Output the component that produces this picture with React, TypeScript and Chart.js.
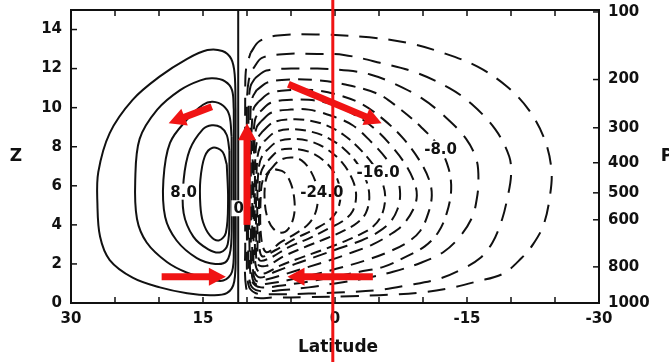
import { useEffect, useRef } from 'react';
import { Chart, registerables } from 'chart.js';

Chart.register(...registerables);

type Pt = [number, number]; // [latitude (deg), height Z (km)]

// ---- axis ticks ----
const latLabelTicks = [30, 15, 0, -15, -30];
const latMinorTicks = [25, 20, 10, 5, -5, -10, -20, -25];
const zTicks = [0, 2, 4, 6, 8, 10, 12, 14];
const pressureLabels = ['1000', '800', '600', '500', '400', '300', '200', '100'];
const pressureZ = [0, 1.85, 4.26, 5.64, 7.18, 8.97, 11.44, 14.9];

// ---- streamfunction contours, positive (direct) cell ----
const psiPos2: Pt[] = [[11.3,9.9],[11.4,11.7],[11.8,12.5],[12.8,12.9],[14.5,12.95],[16.8,12.5],[19.9,11.6],[23.0,10.4],[25.6,8.7],[26.9,6.7],[27.0,5.1],[26.7,3.4],[25.6,2.2],[23.0,1.3],[19.9,0.8],[16.8,0.5],[14.2,0.4],[12.3,0.5],[11.45,1.1],[11.3,3.0],[11.3,6.0],[11.3,9.9]];
const psiPos4: Pt[] = [[11.5,9.9],[11.7,10.9],[12.5,11.35],[13.9,11.5],[15.3,11.4],[17.6,10.9],[20.2,9.9],[22.2,8.4],[22.7,6.3],[22.5,4.3],[21.4,3.1],[19.1,2.1],[16.8,1.55],[14.5,1.25],[12.7,1.15],[11.7,1.6],[11.5,3.0],[11.5,6.0],[11.5,9.9]];
const psiPos6: Pt[] = [[11.75,8.5],[12.0,9.6],[12.7,10.1],[13.9,10.3],[15.0,10.15],[16.8,9.4],[18.75,8.2],[19.5,6.3],[19.3,4.4],[18.0,3.2],[15.7,2.3],[13.6,2.0],[12.3,2.15],[11.8,3.0],[11.75,5.5],[11.75,8.5]];
const psiPos8: Pt[] = [[12.0,7.8],[12.3,8.6],[13.0,9.0],[14.0,9.1],[15.0,8.9],[16.5,7.85],[17.2,6.3],[17.2,4.6],[16.1,3.4],[14.4,2.75],[13.0,2.6],[12.2,3.0],[12.0,4.5],[12.0,7.8]];
const psiPos10: Pt[] = [[12.3,7.1],[12.8,7.75],[13.9,7.95],[14.8,7.5],[15.3,6.3],[15.3,5.0],[15.0,4.15],[14.2,3.45],[13.2,3.2],[12.4,3.6],[12.15,5.3],[12.3,7.1]];

// ---- zero line ----
const psiZero: Pt[] = [[11.0,0],[11.0,15]];

// ---- negative (reverse) cell ----
const psiNeg2: Pt[] = [[9.6,12.8],[8.6,13.4],[6.5,13.7],[2.0,13.75],[-3.9,13.6],[-8.4,13.3],[-12.3,12.8],[-16.2,12.1],[-19.5,11.1],[-22.0,9.9],[-23.8,8.4],[-24.6,6.8],[-24.4,5.4],[-23.7,4.0],[-22.5,3.0],[-21.2,2.3],[-19.1,1.5],[-16.1,1.1],[-13.1,0.77],[-10.0,0.55],[-6.0,0.42],[-1.7,0.35],[3.0,0.3],[7.0,0.28],[9.3,0.3],[10.1,0.8],[10.2,3.0],[10.2,7.0],[10.2,10.8],[10.1,12.0],[9.6,12.8]];
const psiNeg4: Pt[] = [[9.3,12.0],[8.3,12.55],[5.5,12.75],[2.0,12.75],[-1.0,12.7],[-5.1,12.3],[-9.2,11.8],[-13.0,11.0],[-15.5,10.2],[-18.2,8.9],[-19.8,7.5],[-20.0,6.5],[-19.6,5.4],[-19.0,4.3],[-17.9,3.1],[-16.5,2.3],[-14.5,1.75],[-11.9,1.25],[-8.2,0.9],[-5.1,0.67],[-1.0,0.55],[3.0,0.48],[7.0,0.45],[9.0,0.5],[9.85,0.95],[10.0,3.0],[10.0,7.0],[10.0,10.3],[9.8,11.4],[9.3,12.0]];
const psiNeg6: Pt[] = [[9.1,11.5],[7.8,11.9],[5.0,12.0],[2.0,12.0],[-1.5,11.9],[-4.0,11.7],[-6.4,11.3],[-9.8,10.5],[-12.6,9.5],[-14.9,8.4],[-16.1,7.3],[-16.3,6.2],[-16.1,5.3],[-15.6,4.4],[-14.2,3.4],[-12.3,2.6],[-9.7,2.05],[-6.6,1.6],[-3.6,1.28],[0.0,1.0],[3.0,0.8],[6.0,0.66],[8.6,0.62],[9.6,0.95],[9.85,2.5],[9.85,6.5],[9.8,10.2],[9.6,11.1],[9.1,11.5]];
const psiNeg8: Pt[] = [[8.9,10.9],[7.6,11.3],[5.0,11.45],[2.0,11.4],[-1.0,11.2],[-4.9,10.7],[-7.2,10.0],[-9.8,9.0],[-11.8,8.0],[-12.9,6.9],[-13.2,5.8],[-12.7,4.6],[-11.7,3.6],[-10.2,2.9],[-8.2,2.4],[-5.5,1.85],[-2.8,1.6],[0.0,1.35],[3.0,1.1],[6.0,0.9],[8.4,0.8],[9.4,1.1],[9.7,2.5],[9.7,6.5],[9.6,9.8],[9.4,10.5],[8.9,10.9]];
const psiNeg10: Pt[] = [[8.7,10.3],[7.4,10.75],[5.0,10.9],[2.5,10.9],[0.0,10.7],[-3.0,10.2],[-5.5,9.4],[-7.8,8.4],[-9.6,7.3],[-10.7,6.3],[-11.0,5.5],[-10.6,4.6],[-9.7,3.7],[-8.2,3.1],[-6.0,2.6],[-3.6,2.2],[-1.0,1.85],[2.0,1.5],[5.0,1.2],[7.5,1.0],[9.1,1.0],[9.5,1.8],[9.55,4.0],[9.55,7.5],[9.4,9.5],[9.2,10.0],[8.7,10.3]];
const psiNeg12: Pt[] = [[8.5,9.8],[7.3,10.25],[5.0,10.4],[3.0,10.4],[0.5,10.2],[-2.0,9.7],[-4.3,9.0],[-6.3,8.1],[-8.0,7.1],[-9.0,6.2],[-9.3,5.5],[-8.9,4.8],[-7.7,4.0],[-6.25,3.5],[-4.3,3.0],[-2.0,2.6],[0.5,2.2],[3.0,1.85],[5.5,1.5],[7.8,1.2],[9.0,1.15],[9.35,2.0],[9.4,4.5],[9.35,7.5],[9.2,9.0],[9.0,9.5],[8.5,9.8]];
const psiNeg14: Pt[] = [[8.4,9.3],[7.2,9.75],[5.0,9.9],[3.0,9.9],[0.5,9.6],[-2.0,9.1],[-4.0,8.3],[-5.8,7.4],[-7.0,6.5],[-7.4,5.6],[-7.1,4.8],[-6.2,4.1],[-4.8,3.6],[-3.0,3.2],[-0.5,2.8],[2.0,2.4],[4.5,2.0],[6.8,1.6],[8.5,1.3],[9.15,1.6],[9.25,3.0],[9.25,6.0],[9.15,8.3],[8.9,9.0],[8.4,9.3]];
const psiNeg16: Pt[] = [[8.2,8.8],[7.0,9.25],[5.0,9.4],[3.0,9.35],[1.0,9.1],[-1.0,8.6],[-3.0,7.8],[-4.6,6.9],[-5.5,6.0],[-5.7,5.3],[-5.3,4.5],[-4.3,3.9],[-2.8,3.5],[-0.8,3.1],[1.5,2.7],[4.0,2.3],[6.3,1.9],[8.2,1.5],[8.95,1.8],[9.1,3.0],[9.1,6.0],[9.0,7.9],[8.7,8.5],[8.2,8.8]];
const psiNeg18: Pt[] = [[8.0,8.3],[6.8,8.75],[5.0,8.9],[3.0,8.8],[1.0,8.5],[-1.0,7.9],[-2.6,7.1],[-3.6,6.2],[-3.9,5.4],[-3.5,4.6],[-2.5,4.1],[-1.0,3.7],[1.0,3.3],[3.5,2.85],[5.8,2.4],[7.8,1.9],[8.8,2.0],[8.95,3.2],[8.95,6.0],[8.8,7.5],[8.5,8.0],[8.0,8.3]];
const psiNeg20: Pt[] = [[7.8,7.8],[6.6,8.25],[5.0,8.4],[3.0,8.3],[1.0,7.9],[-0.8,7.2],[-2.0,6.3],[-2.4,5.5],[-2.0,4.7],[-0.9,4.2],[0.8,3.8],[3.0,3.3],[5.3,2.85],[7.4,2.3],[8.6,2.2],[8.8,3.3],[8.8,6.0],[8.6,7.1],[8.3,7.5],[7.8,7.8]];
const psiNeg22: Pt[] = [[7.6,7.3],[6.4,7.8],[5.0,7.9],[3.0,7.75],[1.3,7.3],[0.0,6.6],[-0.6,5.7],[-0.4,4.9],[0.5,4.3],[2.2,3.8],[4.5,3.3],[6.8,2.7],[8.3,2.4],[8.6,3.4],[8.6,5.8],[8.4,6.7],[8.1,7.0],[7.6,7.3]];
const psiNeg24: Pt[] = [[7.4,6.8],[6.3,7.3],[5.0,7.45],[3.8,7.3],[2.7,6.7],[2.0,5.8],[2.1,4.8],[2.9,4.1],[4.3,3.6],[6.2,3.1],[7.8,2.6],[8.4,3.4],[8.45,5.4],[8.2,6.3],[7.4,6.8]];
const psiNeg26: Pt[] = [[6.8,6.85],[5.8,6.7],[5.0,6.1],[4.6,5.2],[4.7,4.4],[5.3,3.8],[6.1,3.6],[7.0,3.8],[7.7,4.4],[8.0,5.3],[7.9,6.2],[7.5,6.7],[6.8,6.85]];

const contourLevels = [2, 4, 6, 8, 10, 0, -2, -4, -6, -8, -10, -12, -14, -16, -18, -20, -22, -24, -26];
const contourPaths: Pt[][] = [psiPos2, psiPos4, psiPos6, psiPos8, psiPos10, psiZero, psiNeg2, psiNeg4, psiNeg6, psiNeg8, psiNeg10, psiNeg12, psiNeg14, psiNeg16, psiNeg18, psiNeg20, psiNeg22, psiNeg24, psiNeg26];

// ---- inline contour labels ----
const labelTexts = ['8.0', '0', '-24.0', '-16.0', '-8.0'];
const labelLat = [17.2, 10.95, 1.5, -4.9, -12.0];
const labelZ = [5.7, 4.85, 5.7, 6.7, 7.9];

// ---- overlay: equator marker and circulation arrows (tail -> tip) ----
const equatorLat = 0.25;
const arrowTailLat = [14.0, 10.0, 5.3, 19.7, -4.3];
const arrowTailZ = [10.05, 4.0, 11.2, 1.35, 1.35];
const arrowTipLat = [18.9, 10.0, -5.3, 12.4, 5.4];
const arrowTipZ = [9.2, 9.2, 9.2, 1.35, 1.35];

const INK = '#111111';
const RED = '#f01414';
const FONT = '"DejaVu Sans", "Liberation Sans", sans-serif';

function dashFor(level: number): number[] {
  if (level >= 0) return [];
  if (level >= -6) return [18, 11];
  if (level >= -14) return [14, 8];
  return [11, 6];
}

function drawArrow(ctx: CanvasRenderingContext2D, x0: number, y0: number, x1: number, y1: number) {
  const ang = Math.atan2(y1 - y0, x1 - x0);
  const head = 17;
  const hw = 9;
  const bx = x1 - head * Math.cos(ang);
  const by = y1 - head * Math.sin(ang);
  ctx.lineWidth = 7;
  ctx.lineCap = 'butt';
  ctx.beginPath();
  ctx.moveTo(x0, y0);
  ctx.lineTo(bx + Math.cos(ang), by + Math.sin(ang));
  ctx.stroke();
  ctx.beginPath();
  ctx.moveTo(x1, y1);
  ctx.lineTo(bx + hw * Math.sin(ang), by - hw * Math.cos(ang));
  ctx.lineTo(bx - hw * Math.sin(ang), by + hw * Math.cos(ang));
  ctx.closePath();
  ctx.fill();
}

const decorPlugin = {
  id: 'decor',
  afterDatasetsDraw(chart: any) {
    const { ctx, chartArea: a, scales } = chart;
    const xs = scales.x;
    const ys = scales.y;
    const px = (v: number) => xs.getPixelForValue(v);
    const py = (v: number) => ys.getPixelForValue(v);
    ctx.save();

    // contour labels on white patches
    ctx.font = `bold 15px ${FONT}`;
    ctx.textAlign = 'center';
    ctx.textBaseline = 'middle';
    labelTexts.forEach((t, i) => {
      const x = px(labelLat[i]);
      const y = py(labelZ[i]);
      const w = ctx.measureText(t).width;
      ctx.fillStyle = '#ffffff';
      ctx.fillRect(x - w / 2 - 2, y - 8, w + 4, 16);
      ctx.fillStyle = INK;
      ctx.fillText(t, x, y + 1);
    });

    // frame
    ctx.strokeStyle = INK;
    ctx.lineWidth = 2;
    ctx.setLineDash([]);
    ctx.strokeRect(a.left, a.top, a.right - a.left, a.bottom - a.top);

    // inward tick marks
    ctx.lineWidth = 1.5;
    const tl = 6;
    [...latLabelTicks, ...latMinorTicks].forEach((v) => {
      const x = px(v);
      ctx.beginPath();
      ctx.moveTo(x, a.bottom);
      ctx.lineTo(x, a.bottom - tl);
      ctx.moveTo(x, a.top);
      ctx.lineTo(x, a.top + tl);
      ctx.stroke();
    });
    zTicks.forEach((v) => {
      const y = py(v);
      ctx.beginPath();
      ctx.moveTo(a.left, y);
      ctx.lineTo(a.left + tl, y);
      ctx.stroke();
    });
    pressureZ.forEach((v) => {
      const y = py(v);
      ctx.beginPath();
      ctx.moveTo(a.right, y);
      ctx.lineTo(a.right - tl, y);
      ctx.stroke();
    });

    // axis titles
    ctx.fillStyle = INK;
    ctx.font = `bold 17px ${FONT}`;
    ctx.textAlign = 'center';
    ctx.textBaseline = 'middle';
    const midY = py(7.5);
    ctx.fillText('Z', a.left - 55, midY);
    ctx.fillText('P', a.right + 68, midY);
    ctx.fillText('Latitude', (a.left + a.right) / 2 + 3, a.bottom + 45);

    // equator marker
    ctx.strokeStyle = RED;
    ctx.fillStyle = RED;
    ctx.lineWidth = 3;
    const ex = px(equatorLat);
    ctx.beginPath();
    ctx.moveTo(ex, 0);
    ctx.lineTo(ex, chart.height);
    ctx.stroke();

    // circulation arrows
    arrowTailLat.forEach((_, i) => {
      drawArrow(ctx, px(arrowTailLat[i]), py(arrowTailZ[i]), px(arrowTipLat[i]), py(arrowTipZ[i]));
    });

    ctx.restore();
  },
};

export default function App() {
  const canvasRef = useRef<HTMLCanvasElement | null>(null);

  useEffect(() => {
    const canvas = canvasRef.current;
    if (!canvas) return;

    const datasets = contourPaths.map((path, i) => ({
      label: `psi ${contourLevels[i]}`,
      data: path.map(([x, y]) => ({ x, y })),
      showLine: true,
      pointRadius: 0,
      pointHoverRadius: 0,
      borderColor: INK,
      borderWidth: 2,
      borderDash: dashFor(contourLevels[i]),
      tension: contourLevels[i] === 0 ? 0 : 0.35,
      fill: false,
    }));

    const tickFont = { family: FONT, size: 15, weight: 'bold' as const };
    const noOverflowY = (s: any) => {
      s.paddingTop = 0;
      s.paddingBottom = 0;
    };

    const chart = new Chart(canvas, {
      type: 'scatter',
      data: { datasets },
      options: {
        responsive: false,
        maintainAspectRatio: false,
        devicePixelRatio: 1,
        animation: false,
        events: [],
        layout: { padding: { top: 10, left: 0, right: 0, bottom: 0 } },
        plugins: {
          legend: { display: false },
          tooltip: { enabled: false },
        },
        scales: {
          x: {
            type: 'linear',
            position: 'bottom',
            reverse: true,
            min: -30,
            max: 30,
            afterBuildTicks: (s: any) => {
              s.ticks = latLabelTicks.map((value) => ({ value }));
            },
            afterFit: (s: any) => {
              s.height = 59;
              s.paddingLeft = 0;
              s.paddingRight = 0;
            },
            ticks: {
              autoSkip: false,
              maxRotation: 0,
              padding: 7,
              color: INK,
              font: tickFont,
              callback: (v: any) => String(v),
            },
            grid: { display: false, drawTicks: false },
            border: { display: false },
          },
          y: {
            type: 'linear',
            position: 'left',
            min: 0,
            max: 15,
            afterBuildTicks: (s: any) => {
              s.ticks = zTicks.map((value) => ({ value }));
            },
            afterFit: (s: any) => {
              s.width = 71;
              noOverflowY(s);
            },
            ticks: {
              autoSkip: false,
              padding: 9,
              color: INK,
              font: tickFont,
              callback: (v: any) => String(v),
            },
            grid: { display: false, drawTicks: false },
            border: { display: false },
          },
          p: {
            type: 'linear',
            position: 'right',
            min: 0,
            max: 15,
            afterBuildTicks: (s: any) => {
              s.ticks = pressureZ.map((value) => ({ value }));
            },
            afterFit: (s: any) => {
              s.width = 70;
              noOverflowY(s);
            },
            ticks: {
              autoSkip: false,
              padding: 9,
              color: INK,
              font: tickFont,
              callback: (_v: any, i: number) => pressureLabels[i],
            },
            grid: { display: false, drawTicks: false },
            border: { display: false },
          },
        },
      },
      plugins: [decorPlugin],
    } as any);

    return () => chart.destroy();
  }, []);

  return (
    <div style={{ position: 'fixed', left: 0, top: 0, width: 669, height: 362, background: '#ffffff' }}>
      <canvas ref={canvasRef} width={669} height={362} style={{ width: 669, height: 362, display: 'block' }} />
    </div>
  );
}
